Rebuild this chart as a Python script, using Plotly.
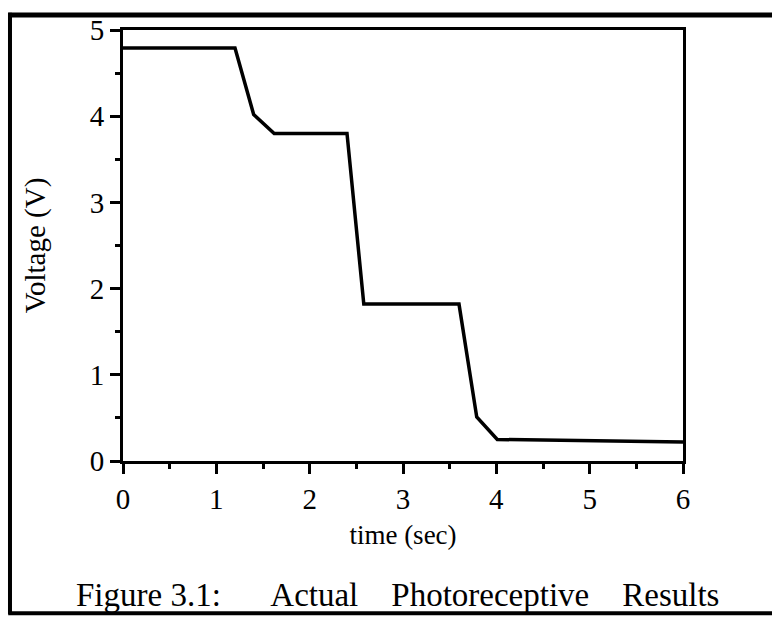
import plotly.graph_objects as go

time_s = [0.0, 1.2, 1.4, 1.62, 2.4, 2.58, 3.6, 3.79, 4.01, 6.0]
voltage_v = [4.79, 4.79, 4.02, 3.80, 3.80, 1.82, 1.82, 0.51, 0.25, 0.22]
x_ticks = [0, 1, 2, 3, 4, 5, 6]
y_ticks = [0, 1, 2, 3, 4, 5]

FONT = "Liberation Serif, Times New Roman, serif"

fig = go.Figure()
fig.add_trace(go.Scatter(x=time_s, y=voltage_v, mode="lines",
                         line=dict(color="black", width=3.5), showlegend=False))

axis_common = dict(showline=True, linecolor="black", linewidth=3, mirror=True,
                   showgrid=False, zeroline=False, ticks="outside", ticklen=10,
                   tickwidth=2.5, tickcolor="black",
                   tickfont=dict(family=FONT, size=29, color="black"))

fig.update_xaxes(range=[0, 6], tickvals=x_ticks, ticktext=[str(v) for v in x_ticks],
                 minor=dict(dtick=0.5, tick0=0, ticks="outside", ticklen=5, tickwidth=2.5, tickcolor="black"),
                 title=dict(text="time (sec)", font=dict(family=FONT, size=27, color="black"), standoff=12),
                 **axis_common)
fig.update_yaxes(range=[0, 5], tickvals=y_ticks, ticktext=[str(v) for v in y_ticks],
                 minor=dict(dtick=0.5, tick0=0, ticks="outside", ticklen=5, tickwidth=2.5, tickcolor="black"),
                 title=dict(text="Voltage (V)", font=dict(family=FONT, size=29, color="black"), standoff=36),
                 **axis_common)

# outer frame of the scanned figure
fig.add_shape(type="line", xref="paper", yref="paper", x0=-0.2018, x1=-0.2018, y0=-0.355, y1=1.04,
              line=dict(color="black", width=4))
fig.add_shape(type="line", xref="paper", yref="paper", x0=-0.205, x1=1.2, y0=1.035, y1=1.035,
              line=dict(color="black", width=5))
fig.add_shape(type="line", xref="paper", yref="paper", x0=-0.205, x1=1.2, y0=-0.353, y1=-0.353,
              line=dict(color="black", width=4))

fig.add_annotation(text="Figure 3.1:&nbsp;&nbsp;&nbsp;&nbsp;&nbsp;&nbsp;Actual&nbsp;&nbsp;&nbsp;&nbsp;Photoreceptive&nbsp;&nbsp;&nbsp;&nbsp;Results",
                   xref="paper", yref="paper", x=0.49, y=-0.312, showarrow=False,
                   xanchor="center", yanchor="middle",
                   font=dict(family=FONT, size=33, color="black"))

fig.update_layout(width=772, height=621, margin=dict(l=123, r=89, t=30, b=160),
                  paper_bgcolor="white", plot_bgcolor="white")

fig.write_html("out.html")
